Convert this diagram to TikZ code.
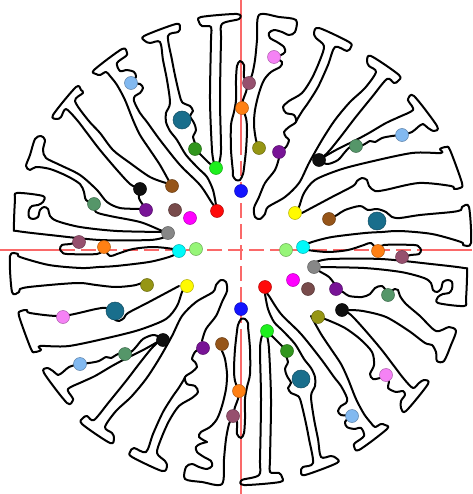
\documentclass[tikz,border=0pt]{standalone}
\definecolor{cRed}{RGB}{255,10,10}
\definecolor{cBlue}{RGB}{20,20,255}
\definecolor{cLime}{RGB}{30,240,30}
\definecolor{cDkGreen}{RGB}{50,150,30}
\definecolor{cTeal}{RGB}{25,110,140}
\definecolor{cLtBlue}{RGB}{130,185,240}
\definecolor{cBrown}{RGB}{150,85,25}
\definecolor{cBlk}{RGB}{15,15,15}
\definecolor{cPurple}{RGB}{120,20,150}
\definecolor{cGrey}{RGB}{135,135,135}
\definecolor{cMagenta}{RGB}{255,0,255}
\definecolor{cDkMauve}{RGB}{120,75,75}
\definecolor{cMauve}{RGB}{150,80,110}
\definecolor{cOrange}{RGB}{255,128,20}
\definecolor{cOlive}{RGB}{150,150,20}
\definecolor{cPink}{RGB}{245,130,245}
\definecolor{cSea}{RGB}{85,150,105}
\definecolor{cYellow}{RGB}{255,250,0}
\definecolor{cCyan}{RGB}{0,250,250}
\definecolor{cLtGreen}{RGB}{150,245,120}
\definecolor{cAxis}{RGB}{250,105,105}
\newcommand\myhalf{%
% A
\draw[ol] plot[smooth,tension=.5] coordinates {(214,163)(212,150)(210,100)(211,40)(211,27)(202,26)(199,22)(201,17)(237,14)(239,19)(222,24)(221,40)(220,100)(221,150)(219,163)};
% B teal piece
\draw[ol] plot[smooth,tension=.5] coordinates {(216,205)(213,190)(207,177)(198,168)(186,155)(177,140)(170,131)(166,122)(166,113)(170,103)(167,80)(163,60)(160,42)(150,43)(145,41)(144,36)(176,24)(180,28)(178,32)(168,36)(172,60)(176,80)(181,100)(185,104)(190,106)(193,111)(190,116)(194,123)(196,130)(193,137)(195,143)(195,149)};
\draw[ol] plot[smooth,tension=.5] coordinates {(195,149)(201,155)(208,162)(214,167)};
% C light blue piece
\draw[ol] plot[smooth,tension=.5] coordinates {(170,183)(160,165)(150,150)(140,135)(133,120)(125,100)(117,85)(110,76)(106,72)(100,75)(96,74)(94,70)(122,49)(127,53)(126,56)(117,63)(120,71)(127,70)(134,72)(136,77)(131,83)(140,84)(143,88)(140,93)(135,96)(134,101)(140,113)(147,122)(160,140)(180,165)(200,185)(212,203)(216,208)};
% F bracket
\draw[ol] plot[smooth,tension=.5] coordinates {(165,232)(117,231)(80,227)(57,221)(50,216)(48,209)(44,207)(40,210)(38,217)(33,219)(29,217)(29,210)(32,206)(38,205)(43,202)(43,196)(17,193)(15,200)(14,228)(17,231)(50,235)(100,240)(150,240)(165,237)};
% G
\draw[ol] plot[smooth,tension=.5] coordinates {(79,242)(70,244)(62,245)(60,249)(62,252)(67,254)(97,254)(104,249)};
\draw[ol] plot[smooth,tension=.5] coordinates {(104,249)(110,256)(117,254)(133,249)(153,247)(173,249)(179,252)};
% Q0 narrow tube
\draw[ol] plot[smooth,tension=.5] coordinates {(233,172)(231,150)(231,125)(234,112)(236,100)(236,80)(237,66)(240,61)(244,65)(244,77)(248,83)};
\draw[ol] plot[smooth,tension=.5] coordinates {(248,83)(246,92)(243,100)(242,108)};
\draw[ol] plot[smooth,tension=.5] coordinates {(242,108)(246,118)(247,130)(246,150)(244,168)(243,174)(240,180)(236,180)(233,176)(233,172)};
% Q1 pink piece
\draw[ol] plot[smooth,tension=.5] coordinates {(248,83)(252,75)(255,60)(257,40)(259,15)(279,17)(296,20)(295,32)(289,35)(282,32)(274,30)(269,33)(270,38)(277,42)(284,47)(285,52)(281,55)(274,57)};
\draw[ol] plot[smooth,tension=.5] coordinates {(274,57)(282,62)(280,67)(271,72)(264,80)(259,93)(255,110)(254,125)(256,140)(259,148)};
% Q2 bumpy piece
\draw[ol] plot[smooth,tension=.5] coordinates {(279,152)(286,147)(289,140)(286,137)(284,132)(289,127)(296,122)(294,115)(286,113)(283,107)(289,101)(302,93)(312,78)(320,60)(324,46)(316,38)(314,33)(319,28)(349,42)(351,47)(347,51)(335,47)(328,65)(318,87)(308,103)(303,110)(298,118)(296,122)};
% Q3 lollipop + T9
\draw[ol] plot[smooth,tension=.5] coordinates {(279,158)(275,170)(265,183)(259,197)(254,208)(255,217)(260,219)(265,214)(268,207)(285,197)(299,183)(309,163)(322,140)(335,120)(350,102)(365,88)(376,72)(369,66)(367,61)(371,56)(399,75)(398,81)(394,83)(387,79)(372,97)(355,118)(342,135)(330,150)(323,157)};
% Q4 T10
\draw[ol] plot[smooth,tension=.5] coordinates {(322,158)(336,150)(356,140)(369,133)(386,123)(399,117)(413,110)(409,102)(408,99)(414,96)(437,126)(434,131)(428,128)(423,124)(418,127)(412,132)(402,135)};
\draw[ol] plot[smooth,tension=.5] coordinates {(402,135)(392,136)(382,138)(375,142)(370,141)(363,145)(356,146)};
\draw[ol] plot[smooth,tension=.5] coordinates {(356,146)(350,147)(345,152)(338,160)(328,164)(321,162)};
% Q5 yellow piece
\draw[ol] plot[smooth,tension=.5] coordinates {(295,213)(299,207)(304,193)(315,180)(339,170)(365,163)(412,153)(441,153)(440,149)(446,147)(450,150)(462,183)(460,188)(454,189)(451,186)(419,183)(385,190)(375,191)(369,186)(367,180)(362,178)(357,181)(353,186)(332,197)(302,213)};
}
\begin{document}
\begin{tikzpicture}[x=1pt,y=-1pt,
  ol/.style={line width=2pt,line join=round,line cap=round,black},
  axis/.style={draw=cAxis,line width=1.5pt},
  ball/.style={circle,minimum size=13pt,inner sep=0pt,line width=0.5pt},
  bigball/.style={ball,minimum size=18pt}]
\useasboundingbox (0,0) rectangle (472,494);
\fill[white] (0,0) rectangle (472,494);
% axes
\coordinate (h0) at (0,250); \coordinate (h1) at (60,250);
\coordinate (h2) at (423,250); \coordinate (h3) at (472,250);
\coordinate (v0) at (241,0); \coordinate (v1) at (241,140);
\coordinate (v2) at (241,340); \coordinate (v3) at (241,494);
\draw[axis] (h0) -- (h1); \draw[axis,dash pattern=on 15pt off 6pt] (h1) -- (h2); \draw[axis] (h2) -- (h3);
\draw[axis] (v0) -- (v1); \draw[axis,dash pattern=on 15pt off 6pt] (v1) -- (v2); \draw[axis] (v2) -- (v3);
% outlines, shared shapes
\myhalf
\begin{scope}[rotate around={180:(240.5,249.5)}]
\myhalf
% Q6 counterpart (no bump)
\draw[ol] plot[smooth,tension=.5] coordinates {(333,219)(345,214)(365,212)(385,214)(400,216)(420,215)(452,212)(461,210)(462,207)(469,207)(471,243)(463,245)(461,242)(432,234)(400,231)(382,232)(365,233)(332,237)(312,242)(303,246)};
\end{scope}
% top-only shapes
% D (T4 piece)
\draw[ol] plot[smooth,tension=.5] coordinates {(138,188)(130,184)(117,170)(100,150)(87,133)(77,120)(66,109)(61,117)(57,119)(53,115)(76,87)(81,90)(83,93)(75,101)(88,120)(100,133)(113,150)(130,163)(150,177)(166,183)};
% E (T5 piece)
\draw[ol] plot[smooth,tension=.5] coordinates {(146,210)(140,209)(120,208)(107,202)(97,190)(80,175)(60,165)(46,158)(43,150)(45,140)(41,136)(35,139)(30,155)(26,166)(30,170)(36,167)(50,169)(67,176)(80,184)(84,192)(86,200)(94,204)};
\draw[ol] plot[smooth,tension=.5] coordinates {(94,204)(96,212)(110,216)(140,222)(160,230)(168,233)};
\draw[ol] plot[smooth,tension=.5] coordinates {(140,189)(139,198)(143,205)(146,210)};
% Q6 teal right piece (with bump)
\draw[ol] plot[smooth,tension=.5] coordinates {(329,219)(337,215)(345,210)(360,206)(368,210)(377,209)(386,212)(392,217)(400,218)(420,215)(452,212)(461,210)(462,207)(469,207)(471,243)(463,245)(461,242)(432,234)(400,231)(382,232)(365,233)(332,237)(312,242)(303,246)};
% bottom-only shapes
% D' (pink bumps)
\draw[ol] plot[smooth,tension=.5] coordinates {(343,310)(351,315)(364,329)(381,349)(394,366)(404,379)(413,388)(419,383)(424,380)(428,384)(406,411)(401,408)(401,401)(405,395)(403,391)(396,392)(388,388)(389,382)(386,375)};
\draw[ol] plot[smooth,tension=.5] coordinates {(386,375)(380,378)(373,379)(370,374)(374,365)(372,352)(360,339)(345,328)(330,321)(322,318)};
% E' (grey-purple-seagreen piece)
\draw[ol] plot[smooth,tension=.5] coordinates {(314,267)(319,271)(329,277)(336,286)};
\draw[ol] plot[smooth,tension=.5] coordinates {(336,289)(343,292)(349,296)(362,297)(370,294)(375,288)(382,286)(388,292)(395,289)(398,290)(400,296)(406,304)(420,316)(436,331)(449,327)(456,331)(451,345)(444,361)(437,361)(436,352)(432,345)(425,343)(409,331)(386,317)(363,311)(349,310)};
% balls top half
\node[bigball,fill=cTeal,draw=cTeal!70!black] (t1) at (182,120) {};
\node[ball,fill=cDkGreen,draw=cDkGreen!70!black] (t2) at (195,149) {};
\node[ball,fill=cLime,draw=cLime!70!black] (t3) at (216,168) {};
\node[ball,fill=cBlue,draw=cBlue!70!black] (t4) at (241,191) {};
\node[ball,fill=cBrown,draw=cBrown!70!black] (t5) at (172,186) {};
\node[ball,fill=cBlk,draw=black] (t6) at (140,189) {};
\node[ball,fill=cRed,draw=cRed!70!black] (t7) at (217,211) {};
\node[ball,fill=cDkMauve,draw=cDkMauve!70!black] (t8) at (175,210) {};
\node[ball,fill=cMagenta,draw=cMagenta!70!black] (t9) at (190,218) {};
\node[ball,fill=cPurple,draw=cPurple!70!black] (t10) at (146,210) {};
\node[ball,fill=cSea,draw=cSea!70!black] (t11) at (94,204) {};
\node[ball,fill=cGrey,draw=cGrey!70!black] (t12) at (168,233) {};
\node[ball,fill=cMauve,draw=cMauve!70!black] (t13) at (79,242) {};
\node[ball,fill=cOrange,draw=cOrange!70!black] (t14) at (104,247) {};
\node[ball,fill=cCyan,draw=cCyan!70!black] (t15) at (179,251) {};
\node[ball,fill=cLtGreen,draw=cLtGreen!70!black] (t16) at (196,249) {};
\node[ball,fill=cLtBlue,draw=cLtBlue!70!black] (t17) at (131,83) {};
\node[ball,fill=cPink,draw=cPink!70!black] (t18) at (274,57) {};
\node[ball,fill=cMauve,draw=cMauve!70!black] (t19) at (249,83) {};
\node[ball,fill=cOrange,draw=cOrange!70!black] (t20) at (242,108) {};
\node[ball,fill=cOlive,draw=cOlive!70!black] (t21) at (259,148) {};
\node[ball,fill=cPurple,draw=cPurple!70!black] (t22) at (279,152) {};
\node[ball,fill=cBlk,draw=black] (t23) at (319,160) {};
\node[ball,fill=cSea,draw=cSea!70!black] (t24) at (356,146) {};
\node[ball,fill=cLtBlue,draw=cLtBlue!70!black] (t25) at (402,135) {};
\node[ball,fill=cYellow,draw=cYellow!70!black] (t26) at (295,213) {};
\node[ball,fill=cBrown,draw=cBrown!70!black] (t27) at (329,219) {};
\node[bigball,fill=cTeal,draw=cTeal!70!black] (t28) at (377,221) {};
% balls bottom half
\node[ball,fill=cLtGreen,draw=cLtGreen!70!black] (u1) at (286,250) {};
\node[ball,fill=cCyan,draw=cCyan!70!black] (u2) at (303,247) {};
\node[ball,fill=cOrange,draw=cOrange!70!black] (u3) at (378,251) {};
\node[ball,fill=cMauve,draw=cMauve!70!black] (u4) at (402,257) {};
\node[ball,fill=cGrey,draw=cGrey!70!black] (u5) at (314,267) {};
\node[ball,fill=cMagenta,draw=cMagenta!70!black] (u6) at (293,280) {};
\node[ball,fill=cDkMauve,draw=cDkMauve!70!black] (u7) at (308,289) {};
\node[ball,fill=cPurple,draw=cPurple!70!black] (u8) at (336,289) {};
\node[ball,fill=cSea,draw=cSea!70!black] (u9) at (388,295) {};
\node[ball,fill=cRed,draw=cRed!70!black] (u10) at (265,287) {};
\node[ball,fill=cBlue,draw=cBlue!70!black] (u11) at (241,309) {};
\node[ball,fill=cOlive,draw=cOlive!70!black] (u12) at (318,317) {};
\node[ball,fill=cBlk,draw=black] (u13) at (342,310) {};
\node[ball,fill=cLime,draw=cLime!70!black] (u14) at (267,331) {};
\node[ball,fill=cDkGreen,draw=cDkGreen!70!black] (u15) at (287,351) {};
\node[bigball,fill=cTeal,draw=cTeal!70!black] (u16) at (301,379) {};
\node[ball,fill=cPink,draw=cPink!70!black] (u17) at (386,375) {};
\node[ball,fill=cLtBlue,draw=cLtBlue!70!black] (u18) at (352,416) {};
\node[ball,fill=cOrange,draw=cOrange!70!black] (u19) at (239,391) {};
\node[ball,fill=cMauve,draw=cMauve!70!black] (u20) at (233,416) {};
\node[ball,fill=cOlive,draw=cOlive!70!black] (u21) at (147,285) {};
\node[ball,fill=cYellow,draw=cYellow!70!black] (u22) at (187,286) {};
\node[ball,fill=cPink,draw=cPink!70!black] (u23) at (63,317) {};
\node[bigball,fill=cTeal,draw=cTeal!70!black] (u24) at (115,311) {};
\node[ball,fill=cBlk,draw=black] (u25) at (163,340) {};
\node[ball,fill=cSea,draw=cSea!70!black] (u26) at (125,354) {};
\node[ball,fill=cLtBlue,draw=cLtBlue!70!black] (u27) at (80,364) {};
\node[ball,fill=cPurple,draw=cPurple!70!black] (u28) at (203,348) {};
\node[ball,fill=cBrown,draw=cBrown!70!black] (u29) at (222,344) {};
\end{tikzpicture}
\end{document}
